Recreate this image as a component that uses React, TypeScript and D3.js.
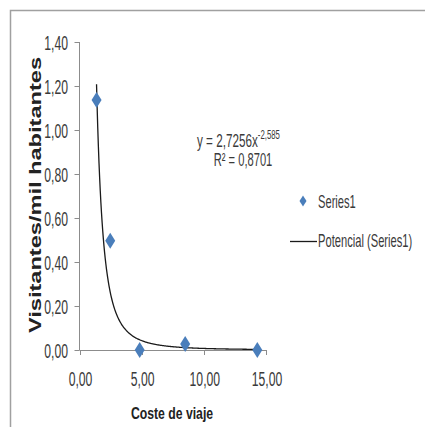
import * as d3 from "d3";
import { useEffect, useRef } from "react";

const costs = [1.37, 2.47, 4.84, 8.5, 14.3];
const visitors = [1.136, 0.497, 0.0, 0.027, 0.0];
const xTicks = [0, 5, 10, 15];
const yTicks = [0, 0.2, 0.4, 0.6, 0.8, 1.0, 1.2, 1.4];
const trendCoef = [2.7256, -2.585];
const rSquared = 0.8701;
const seriesNames = ["Series1", "Potencial (Series1)"];

const fmt = (v: number) => v.toFixed(2).replace(".", ",");
const comma = (v: number) => String(v).replace(".", ",");

export default function App() {
  const ref = useRef<SVGSVGElement | null>(null);

  useEffect(() => {
    const svg = d3.select(ref.current);
    svg.selectAll("*").remove();

    const width = 425;
    const height = 427;
    const font = "'Liberation Sans', Arial, sans-serif";
    const textColor = "#3a3a3a";
    const axisColor = "#8c8c8c";
    const blue = "#4a7ebb";

    svg.attr("width", width).attr("height", height).style("display", "block");
    svg.append("rect").attr("width", width).attr("height", height).attr("fill", "#fff");

    // frame, only top and left edges show
    svg.append("path")
      .attr("d", `M10.5,${height} V10.5 H${width}`)
      .attr("fill", "none")
      .attr("stroke", "#a0a0a0")
      .attr("stroke-width", 1.5);

    const x = d3.scaleLinear().domain([0, 15]).range([79.5, 266]);
    const y = d3.scaleLinear().domain([0, 1.4]).range([350, 42]);

    // squeezed text, the original is horizontally compressed
    const label = (tx: number, ty: number, txt: string, anchor: string, size: number, sx: number) =>
      svg.append("text")
        .attr("transform", `translate(${tx},${ty}) scale(${sx},1)`)
        .attr("text-anchor", anchor)
        .attr("font-family", font)
        .attr("font-size", size)
        .attr("fill", textColor)
        .text(txt);

    // y axis
    svg.append("line")
      .attr("x1", x(0)).attr("x2", x(0))
      .attr("y1", y(1.4)).attr("y2", y(0))
      .attr("stroke", axisColor);
    yTicks.forEach((t) => {
      svg.append("line")
        .attr("x1", x(0) - 5).attr("x2", x(0))
        .attr("y1", Math.round(y(t)) + 0.5).attr("y2", Math.round(y(t)) + 0.5)
        .attr("stroke", axisColor);
      label(68, y(t) + 8, fmt(t), "end", 21, 0.58);
    });

    // x axis
    svg.append("line")
      .attr("x1", x(0)).attr("x2", x(15))
      .attr("y1", y(0) + 0.5).attr("y2", y(0) + 0.5)
      .attr("stroke", axisColor);
    xTicks.forEach((t) => {
      svg.append("line")
        .attr("x1", Math.round(x(t)) + 0.5).attr("x2", Math.round(x(t)) + 0.5)
        .attr("y1", y(0)).attr("y2", y(0) + 5)
        .attr("stroke", axisColor);
      label(x(t) + 1, 386, fmt(t), "middle", 21, 0.58);
    });

    // power trendline
    const [a, b] = trendCoef;
    const xs = d3.range(costs[0], costs[costs.length - 1] + 0.001, 0.05);
    const line = d3.line<number>()
      .x((d) => x(d))
      .y((d) => y(a * Math.pow(d, b)))
      .curve(d3.curveMonotoneX);
    svg.append("path")
      .attr("d", line(xs) ?? "")
      .attr("fill", "none")
      .attr("stroke", "#1a1a1a")
      .attr("stroke-width", 1.3);

    // data points
    const diamond = "M0,-8 L5,0 L0,8 L-5,0Z";
    costs.forEach((c, i) => {
      svg.append("path")
        .attr("d", diamond)
        .attr("transform", `translate(${x(c)},${y(visitors[i])})`)
        .attr("fill", blue);
    });

    // equation + r2
    const eq = svg.append("text")
      .attr("transform", `translate(197,147) scale(0.65,1)`)
      .attr("font-family", font)
      .attr("font-size", 18)
      .attr("fill", textColor);
    eq.append("tspan").text(`y = ${a.toFixed(4).replace(".", ",")}x`);
    eq.append("tspan").attr("font-size", 12).attr("dy", -8).text(comma(b));
    label(243, 166, `R² = ${comma(rSquared)}`, "middle", 18, 0.62);

    // legend
    svg.append("path")
      .attr("d", diamond)
      .attr("transform", `translate(303,201) scale(0.7)`)
      .attr("fill", blue);
    label(318, 208, seriesNames[0], "start", 18, 0.62);
    svg.append("line")
      .attr("x1", 290).attr("x2", 317)
      .attr("y1", 241.5).attr("y2", 241.5)
      .attr("stroke", "#1a1a1a").attr("stroke-width", 1.3);
    label(318, 247, seriesNames[1], "start", 18, 0.62);

    // axis titles
    svg.append("text")
      .attr("transform", `translate(41,195) rotate(-90)`)
      .attr("text-anchor", "middle")
      .attr("font-family", font)
      .attr("font-weight", "bold")
      .attr("font-size", 16)
      .attr("textLength", 276)
      .attr("lengthAdjust", "spacingAndGlyphs")
      .attr("fill", "#222")
      .text("Visitantes/mil habitantes");
    svg.append("text")
      .attr("transform", `translate(172,419) scale(0.72,1)`)
      .attr("text-anchor", "middle")
      .attr("font-family", font)
      .attr("font-weight", "bold")
      .attr("font-size", 17)
      .attr("fill", "#222")
      .text("Coste de viaje");
  }, []);

  return <svg ref={ref} style={{ position: "absolute", left: 0, top: 0 }} />;
}
